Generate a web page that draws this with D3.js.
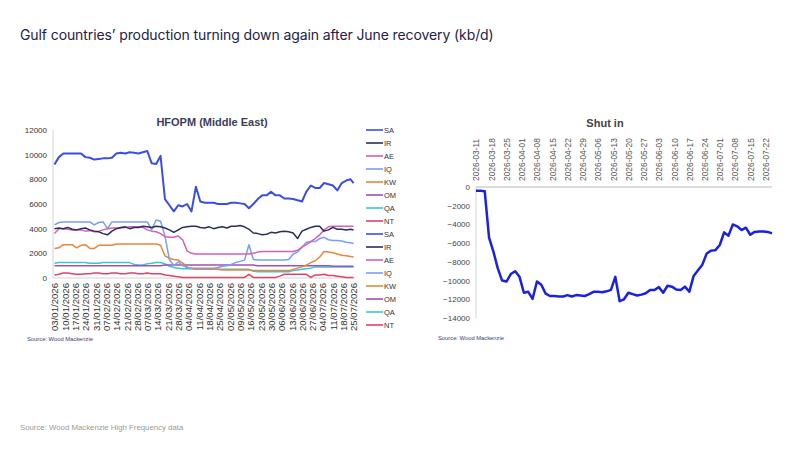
<!DOCTYPE html>
<html><head><meta charset="utf-8">
<script src="https://cdn.jsdelivr.net/npm/d3@7"></script>
<style>body{margin:0;background:#fff}svg{display:block}</style>
</head><body><svg id="c" width="800" height="450"></svg>
<script>
// ---------- DATA ----------
const seriesKeys = ["SA","IR","AE","IQ","KW","OM","QA","NT"];
const seriesColors = ["#3a4fe0","#2b2d5c","#d660b8","#7b9ef2","#e5883f","#a24fb6","#3cc6d6","#dd4466"];

const leftDates = ["01-03","01-06","01-09","01-12","01-15","01-18","01-21","01-24","01-27","01-30",
"02-02","02-05","02-08","02-11","02-14","02-17","02-20","02-23","02-26",
"03-01","03-04","03-07","03-10","03-13","03-16","03-19","03-22","03-25","03-28","03-31",
"04-03","04-06","04-09","04-12","04-15","04-18","04-21","04-24","04-27","04-30",
"05-03","05-06","05-09","05-12","05-15","05-18","05-21","05-24","05-27","05-30",
"06-02","06-05","06-08","06-11","06-14","06-17","06-20","06-23","06-26","06-29",
"07-02","07-05","07-08","07-11","07-14","07-17","07-20","07-23","07-25"];

const SA = [9200,9800,10100,10100,10100,10100,10100,9800,9750,9600,
9650,9700,9700,9750,10100,10150,10100,10200,10150,10100,
10200,10300,9300,9250,9900,6400,5900,5400,5900,5800,
6000,5400,7400,6200,6100,6100,6100,6000,6000,6000,
6100,6100,6050,6000,5650,6000,6400,6700,6700,7000,
6700,6700,6450,6450,6400,6300,6200,7000,7500,7300,
7300,7700,7600,7500,7100,7700,7900,8000,7700];
const IR = [4000,4050,4000,4100,3950,3900,4000,4050,3900,3800,
3750,3600,3500,3800,4000,4100,4150,4000,4100,4100,
4200,4150,4100,4200,4150,4050,3900,3700,3900,4100,
4150,4200,4200,4100,4050,4150,4000,4100,4150,4050,
4200,4200,4250,4150,3950,3650,3600,3500,3550,3700,
3650,3750,3800,3750,3650,3200,3800,3950,4100,4200,
4200,3800,3900,4100,3950,3950,3900,3950,3900];
const AE = [3600,4000,4000,3950,3900,3900,3900,3800,3850,3750,
3800,3900,4000,4050,4050,4050,4100,4150,4150,4150,
4100,3900,3800,3750,3600,3350,3300,3300,3400,3100,
2200,2000,1950,1950,1950,1950,1950,1950,1950,1950,
1950,1950,1950,1950,1950,2000,2100,2150,2150,2150,
2150,2150,2150,2150,2150,2250,2500,2700,2950,3200,
3500,3900,4150,4200,4200,4200,4200,4200,4200];
const IQ = [4300,4500,4550,4550,4550,4550,4550,4550,4550,4300,
4500,4550,4000,4550,4550,4550,4550,4550,4550,4550,
4550,4550,3900,4700,4600,3400,1500,1000,1300,1000,
850,800,800,800,800,800,800,850,950,1000,
1100,1250,1350,1450,2700,1500,1450,1450,1450,1450,
1450,1450,1450,1500,1950,2100,2500,2900,2950,2950,
3200,3300,3100,3050,3050,3000,2900,2850,2800];
const KW = [2400,2450,2700,2700,2700,2450,2650,2700,2400,2400,
2650,2650,2650,2650,2750,2750,2750,2750,2750,2750,
2750,2750,2750,2750,2650,1800,1600,1500,1450,1200,
900,750,700,700,700,700,700,700,650,650,
650,650,650,650,650,600,600,600,600,600,
600,600,600,600,700,800,900,1050,1250,1400,
1700,2150,2100,2050,1950,1850,1800,1750,1700];
const OM = [1000,1000,1000,1000,1000,1000,1000,1000,1000,1000,
1000,1000,1000,1000,1000,1000,1000,1000,1000,1000,
1000,1000,1000,1000,1000,1050,1050,1050,1050,1050,
1050,1050,1050,1050,1050,1050,1050,1050,1050,1050,
1050,1050,1050,1050,1050,1050,1000,1000,1000,1000,
1000,1000,1000,1000,1000,1000,1000,1000,1000,1000,
1000,1000,1000,950,950,950,950,950,950];
const QA = [1200,1250,1250,1250,1250,1250,1250,1250,1200,1200,
1200,1250,1250,1250,1250,1250,1250,1250,1100,1050,
1050,1150,1200,1250,1250,1150,950,850,800,750,
750,750,750,750,700,700,700,700,700,700,
700,700,700,700,700,550,500,500,500,500,
500,500,500,500,600,650,700,750,800,900,
900,900,900,900,900,900,900,900,900];
const NT = [250,300,400,400,350,300,300,350,350,400,
400,350,350,400,400,350,350,400,400,350,
350,400,350,350,350,250,200,150,100,50,
50,50,50,50,50,50,50,50,50,50,
50,50,50,50,300,50,50,50,50,50,
50,150,300,300,300,300,300,300,50,250,
250,300,200,200,150,100,50,50,50];

const leftTickLabels = ["03/01/2026","10/01/2026","17/01/2026","24/01/2026","31/01/2026","07/02/2026",
"14/02/2026","21/02/2026","28/02/2026","07/03/2026","14/03/2026","21/03/2026","28/03/2026",
"04/04/2026","11/04/2026","18/04/2026","25/04/2026","02/05/2026","09/05/2026","16/05/2026",
"23/05/2026","30/05/2026","06/06/2026","13/06/2026","20/06/2026","27/06/2026","04/07/2026",
"11/07/2026","18/07/2026","25/07/2026"];
const leftYTicks = [0,2000,4000,6000,8000,10000,12000];

const shutDates = ["03-11","03-13","03-15","03-17","03-19","03-21","03-23","03-25","03-27","03-29","03-31",
"04-02","04-04","04-06","04-08","04-10","04-12","04-14","04-16","04-18","04-20","04-22","04-24","04-26","04-28","04-30",
"05-02","05-04","05-06","05-08","05-10","05-12","05-14","05-16","05-18","05-20","05-22","05-24","05-26","05-28","05-30",
"06-01","06-03","06-05","06-07","06-09","06-11","06-13","06-15","06-17","06-19","06-21","06-23","06-25","06-27","06-29",
"07-01","07-03","07-05","07-07","07-09","07-11","07-13","07-15","07-17","07-19","07-21","07-23","07-25"];
const shutIn = [-400,-400,-450,-5400,-6900,-8700,-10000,-10100,-9300,-9000,
-9600,-11300,-11200,-11950,-10100,-10450,-11400,-11650,-11650,-11700,
-11700,-11550,-11700,-11550,-11600,-11650,-11450,-11200,-11200,-11250,
-11150,-11000,-9600,-12200,-12000,-11300,-11450,-11600,-11500,-11350,
-11000,-11000,-10700,-11300,-10550,-10650,-10950,-11000,-10650,-11200,
-9500,-8900,-8300,-7100,-6800,-6750,-6200,-4850,-5200,-4000,
-4200,-4600,-4350,-5100,-4800,-4750,-4750,-4800,-4950];
const rightTickLabels = ["2026-03-11","2026-03-18","2026-03-25","2026-04-01","2026-04-08","2026-04-15",
"2026-04-22","2026-04-29","2026-05-06","2026-05-13","2026-05-20","2026-05-27","2026-06-03",
"2026-06-10","2026-06-17","2026-06-24","2026-07-01","2026-07-08","2026-07-15","2026-07-22"];
const rightYTicks = [0,-2000,-4000,-6000,-8000,-10000,-12000,-14000];

// ---------- DRAW ----------
const svg = d3.select("#c");
svg.append("rect").attr("width",800).attr("height",450).attr("fill","#fff");
const md = s => new Date(2026, +s.slice(0,2)-1, +s.slice(3,5));
const dmy = s => new Date(+s.slice(6,10), +s.slice(3,5)-1, +s.slice(0,2));
const ymd = s => new Date(+s.slice(0,4), +s.slice(5,7)-1, +s.slice(8,10));
const AX = "Liberation Sans, Arial, sans-serif";

svg.append("text").attr("x",20).attr("y",40)
  .attr("font-family","Inter, Lato, sans-serif").attr("font-size",14).attr("fill","#23204f")
  .attr("letter-spacing","-0.1")
  .text("Gulf countries\u2019 production turning down again after June recovery (kb/d)");

svg.append("text").attr("x",20).attr("y",430).attr("font-family",AX)
  .attr("font-size",7.8).attr("fill","#9a9a9a").text("Source:  Wood Mackenzie High Frequency data");

// Left chart
const xL = d3.scaleTime().domain([new Date(2026,0,2), new Date(2026,6,26)]).range([53,355]);
const yL = d3.scaleLinear().domain([0,12000]).range([278,130]);

svg.append("line").attr("x1",53).attr("x2",53).attr("y1",130).attr("y2",278)
  .attr("stroke","#d4d4d4").attr("stroke-width",1);
svg.append("line").attr("x1",53).attr("x2",355).attr("y1",278).attr("y2",278)
  .attr("stroke","#d4d4d4").attr("stroke-width",1);

const gyL = svg.append("g").attr("transform","translate(53,0)")
  .call(d3.axisLeft(yL).tickValues(leftYTicks).tickSize(0).tickPadding(6).tickFormat(d3.format("d")));
gyL.select(".domain").remove();
gyL.selectAll("text").attr("font-family",AX).attr("font-size",8).attr("fill","#333");

const gxL = svg.append("g").attr("transform","translate(0,281)")
  .call(d3.axisBottom(xL).tickValues(leftTickLabels.map(dmy)).tickSize(0).tickPadding(0)
    .tickFormat((d,i)=>leftTickLabels[i]));
gxL.select(".domain").remove();
gxL.selectAll("text").attr("font-family",AX).attr("font-size",9.6).attr("fill","#333")
  .attr("text-anchor","end").attr("transform","rotate(-90)").attr("dx",0).attr("dy","0.35em")
  .attr("x",0).attr("y",0);
gxL.selectAll(".tick").each(function(){
  const t = d3.select(this); const tr = t.attr("transform");
  const m = /translate\(([^,]+),/.exec(tr);
  t.attr("transform",`translate(${m[1]},2)`);
});

const seriesData = [SA,IR,AE,IQ,KW,OM,QA,NT];
const lineL = d3.line().x((d,i)=>xL(md(leftDates[i]))).y(d=>yL(d));
[7,6,5,4,3,2,1,0].forEach(k=>{
  svg.append("path").datum(seriesData[k]).attr("d",lineL).attr("fill","none")
    .attr("stroke",seriesColors[k]).attr("stroke-width",k===0?2:1.5).attr("stroke-linejoin","round");
});

svg.append("text").attr("x",212).attr("y",126).attr("text-anchor","middle")
  .attr("font-family",AX).attr("font-size",11).attr("font-weight","bold").attr("fill","#3a3d5a")
  .text("HFOPM (Middle East)");
svg.append("text").attr("x",27).attr("y",341).attr("font-family",AX).attr("font-size",5.8)
  .attr("fill","#3a3d7a").text("Source: Wood Mackenzie");

// legend (two groups)
const legendKeys = seriesKeys.concat(seriesKeys);
const lg = svg.append("g");
legendKeys.forEach((k,i)=>{
  const c = seriesColors[i%8]; const y = 130 + i*13;
  lg.append("line").attr("x1",366).attr("x2",383).attr("y1",y).attr("y2",y)
    .attr("stroke",c).attr("stroke-width",1.6);
  lg.append("text").attr("x",384).attr("y",y).attr("dy","0.35em").attr("font-family",AX)
    .attr("font-size",7.5).attr("fill","#333").text(k);
});

// Right chart
const xR = d3.scaleTime().domain([new Date(2026,2,11), new Date(2026,6,25)]).range([476,772]);
const yR = d3.scaleLinear().domain([-14000,0]).range([318,187]);

svg.append("line").attr("x1",476).attr("x2",476).attr("y1",187).attr("y2",318)
  .attr("stroke","#d4d4d4").attr("stroke-width",1);
svg.append("line").attr("x1",476).attr("x2",772).attr("y1",187).attr("y2",187)
  .attr("stroke","#cfcfcf").attr("stroke-width",1.4);

const gyR = svg.append("g").attr("transform","translate(476,0)")
  .call(d3.axisLeft(yR).tickValues(rightYTicks).tickSize(0).tickPadding(6).tickFormat(d3.format("d")));
gyR.select(".domain").remove();
gyR.selectAll("text").attr("font-family",AX).attr("font-size",8).attr("fill","#444");

const gxR = svg.append("g").attr("transform","translate(0,181)")
  .call(d3.axisTop(xR).tickValues(rightTickLabels.map(ymd)).tickSize(0).tickPadding(0)
    .tickFormat((d,i)=>rightTickLabels[i]));
gxR.select(".domain").remove();
gxR.selectAll("text").attr("font-family",AX).attr("font-size",8.4).attr("fill","#555")
  .attr("text-anchor","start").attr("transform","rotate(-90)").attr("x",0).attr("y",0).attr("dy","0.35em");

const lineR = d3.line().x((d,i)=>xR(md(shutDates[i]))).y(d=>yR(d));
svg.append("path").datum(shutIn).attr("d",lineR).attr("fill","none")
  .attr("stroke","#1a22e0").attr("stroke-width",2.5).attr("stroke-linejoin","round");

svg.append("text").attr("x",605).attr("y",127).attr("text-anchor","middle")
  .attr("font-family",AX).attr("font-size",11).attr("font-weight","bold").attr("fill","#444")
  .text("Shut in");
svg.append("text").attr("x",438).attr("y",340).attr("font-family",AX).attr("font-size",5.8)
  .attr("fill","#3a3d7a").text("Source: Wood Mackenzie");
</script></body></html>
